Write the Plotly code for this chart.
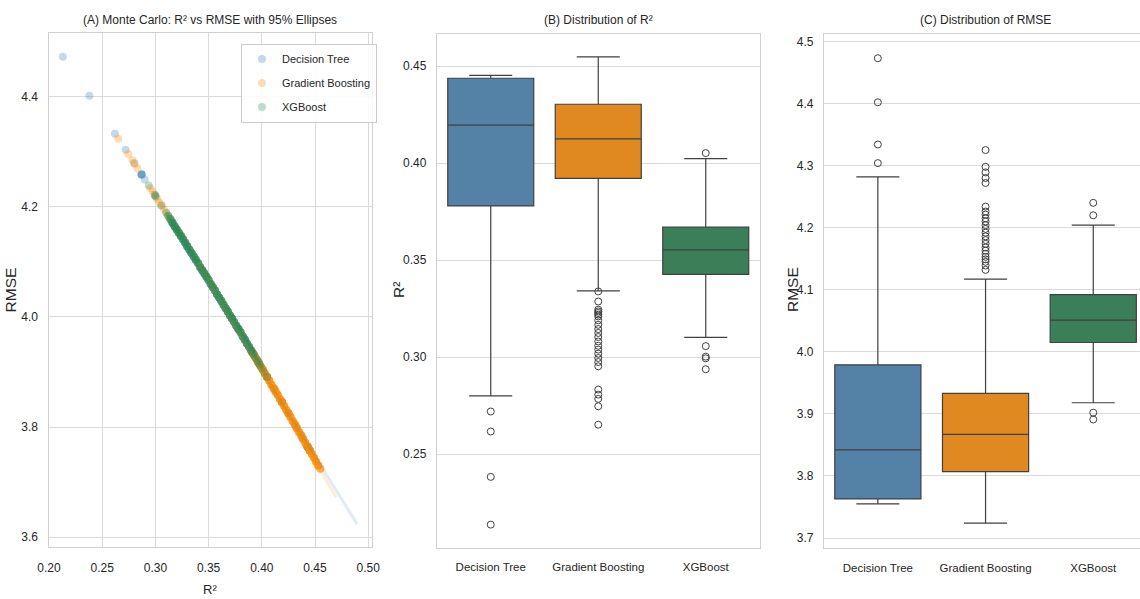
import numpy as np
import plotly.graph_objects as go

# ---------------- data ----------------
models = ["Decision Tree", "Gradient Boosting", "XGBoost"]

# Panel A: Monte Carlo samples (R2, RMSE) with multiplicity counts
dt_r2 = [0.213, 0.238, 0.262, 0.272, 0.280, 0.287, 0.290, 0.300, 0.315, 0.330, 0.345, 0.360, 0.372,
         0.378, 0.385, 0.392, 0.397, 0.405, 0.412, 0.419, 0.425, 0.432, 0.438, 0.443, 0.445]
dt_rmse = [4.473, 4.402, 4.333, 4.304, 4.280, 4.259, 4.250, 4.220, 4.175, 4.129, 4.082, 4.035, 3.997,
           3.978, 3.956, 3.933, 3.917, 3.891, 3.868, 3.845, 3.825, 3.801, 3.781, 3.764, 3.758]
dt_count = [1, 1, 1, 1, 1, 4, 1, 1, 1, 1, 1, 1, 1, 2, 1, 1, 3, 3, 2, 3, 2, 2, 2, 6, 4]

gb_r2 = [0.2651, 0.2746, 0.2784, 0.2806, 0.2832, 0.2952, 0.2974, 0.2995, 0.3017, 0.3038, 0.3058,
         0.3080, 0.3103, 0.3124, 0.3144, 0.3166, 0.3189, 0.3209, 0.3227, 0.3244, 0.3286, 0.3338,
         0.338, 0.343, 0.348, 0.353, 0.358, 0.363, 0.368, 0.372, 0.376, 0.380, 0.383, 0.386, 0.389,
         0.391, 0.393, 0.395, 0.397, 0.399, 0.401, 0.403, 0.405, 0.407, 0.409, 0.411, 0.413, 0.415,
         0.417, 0.419, 0.421, 0.423, 0.425, 0.427, 0.429, 0.431, 0.433, 0.435, 0.437, 0.439, 0.441,
         0.443, 0.445, 0.447, 0.449, 0.451, 0.453, 0.455]
gb_rmse = [4.324, 4.296, 4.285, 4.278, 4.270, 4.234, 4.228, 4.222, 4.215, 4.208, 4.202,
           4.196, 4.189, 4.182, 4.176, 4.170, 4.163, 4.156, 4.151, 4.146, 4.133, 4.117,
           4.104, 4.088, 4.073, 4.057, 4.041, 4.026, 4.010, 3.997, 3.984, 3.972, 3.962, 3.952, 3.943,
           3.936, 3.930, 3.923, 3.917, 3.910, 3.904, 3.897, 3.891, 3.884, 3.877, 3.871, 3.864, 3.858,
           3.851, 3.845, 3.838, 3.831, 3.825, 3.818, 3.811, 3.805, 3.798, 3.791, 3.785, 3.778, 3.771,
           3.764, 3.758, 3.751, 3.744, 3.737, 3.730, 3.724]
gb_count = [1] * 22 + [1] * 13 + [5] * 32 + [3]

xgb_r2 = [0.2937, 0.2993, 0.3002, 0.3056,
          0.310, 0.312, 0.314, 0.316, 0.318, 0.320, 0.322, 0.324, 0.326, 0.328, 0.330, 0.332, 0.334,
          0.336, 0.338, 0.340, 0.342, 0.344, 0.346, 0.348, 0.350, 0.352, 0.354, 0.356, 0.358, 0.360,
          0.362, 0.364, 0.366, 0.368, 0.370, 0.372, 0.374, 0.376, 0.378, 0.380, 0.382, 0.384, 0.386,
          0.388, 0.390, 0.392, 0.394, 0.396, 0.398, 0.400, 0.402, 0.405]
xgb_rmse = [4.239, 4.222, 4.219, 4.203,
            4.190, 4.184, 4.178, 4.171, 4.165, 4.159, 4.153, 4.147, 4.141, 4.135, 4.128, 4.122, 4.116,
            4.110, 4.104, 4.098, 4.091, 4.085, 4.079, 4.073, 4.067, 4.060, 4.054, 4.048, 4.041, 4.035,
            4.029, 4.022, 4.016, 4.010, 4.003, 3.997, 3.991, 3.984, 3.978, 3.972, 3.965, 3.959, 3.952,
            3.946, 3.939, 3.933, 3.926, 3.920, 3.913, 3.907, 3.900, 3.891]
xgb_count = [1, 1, 1, 1, 1, 2, 3] + [5] * 38 + [3, 2, 2, 2, 1, 1, 1]

# 95% ellipse extents (major axis end points)
dt_ell_r2, dt_ell_rmse = [0.322, 0.4895], [4.145, 3.624]
gb_ell_r2, gb_ell_rmse = [0.340, 0.470], [4.098, 3.672]
xgb_ell_r2, xgb_ell_rmse = [0.310, 0.399], [4.190, 3.910]

# Panel B: R2 box statistics
r2_q1 = [0.3779, 0.3921, 0.3426]
r2_median = [0.4195, 0.4124, 0.3552]
r2_q3 = [0.4437, 0.4303, 0.3669]
r2_low = [0.2800, 0.3341, 0.3101]
r2_high = [0.4452, 0.4547, 0.4023]
r2_outliers = [
    [0.2719, 0.2616, 0.2382, 0.2136],
    [0.3338, 0.3286, 0.3244, 0.3235, 0.3227, 0.3218, 0.3209, 0.3189, 0.3166, 0.3144, 0.3124, 0.3103,
     0.3080, 0.3058, 0.3038, 0.3017, 0.2995, 0.2974, 0.2952, 0.2832, 0.2806, 0.2784, 0.2746, 0.2651],
    [0.4051, 0.3056, 0.3002, 0.2993, 0.2937],
]

# Panel C: RMSE box statistics
rmse_q1 = [3.763, 3.807, 4.015]
rmse_median = [3.842, 3.867, 4.051]
rmse_q3 = [3.979, 3.933, 4.092]
rmse_low = [3.755, 3.724, 3.918]
rmse_high = [4.282, 4.117, 4.204]
rmse_outliers = [
    [4.473, 4.402, 4.334, 4.304],
    [4.325, 4.298, 4.289, 4.280, 4.272, 4.234, 4.226, 4.221, 4.215, 4.210, 4.204, 4.198, 4.192,
     4.186, 4.180, 4.174, 4.168, 4.163, 4.158, 4.153, 4.149, 4.145, 4.139, 4.132],
    [4.240, 4.220, 3.902, 3.891],
]

# ---------------- styling ----------------
W, H = 1140, 599
scatter_colors = ["#4682B4", "#FF8C00", "#2E8B57"]
box_colors = ["#5481a6", "#df8920", "#3a7f58"]
edge = "#404040"
grid = "#dadada"
spine = "#d0d0d0"
txt = "#262626"
FONT = "Liberation Sans, Arial, sans-serif"


def px_x(p):
    return p / W


def px_y(p):
    return 1 - p / H


fig = go.Figure()

# Panel A scatter
samples = [(dt_r2, dt_rmse, dt_count), (gb_r2, gb_rmse, gb_count), (xgb_r2, xgb_rmse, xgb_count)]
for name, col, (r2, rm, cnt) in zip(models, scatter_colors, samples):
    fig.add_trace(go.Scatter(
        x=np.repeat(r2, cnt), y=np.repeat(rm, cnt), mode="markers", name=name, legendgroup=name,
        marker=dict(color=col, size=8, opacity=0.3, line=dict(width=0)),
        xaxis="x", yaxis="y", showlegend=True, hoverinfo="skip"))

for col, (ex, ey) in zip(scatter_colors, [(dt_ell_r2, dt_ell_rmse), (gb_ell_r2, gb_ell_rmse),
                                          (xgb_ell_r2, xgb_ell_rmse)]):
    fig.add_trace(go.Scatter(x=ex, y=ey, mode="lines", line=dict(color=col, width=3),
                             opacity=0.16, showlegend=False, xaxis="x", yaxis="y", hoverinfo="skip"))

# Panels B and C boxes
panels = [("x2", "y2", r2_q1, r2_median, r2_q3, r2_low, r2_high, r2_outliers),
          ("x3", "y3", rmse_q1, rmse_median, rmse_q3, rmse_low, rmse_high, rmse_outliers)]
for xa, ya, q1, med, q3, lo, hi, outs in panels:
    for i in range(3):
        fig.add_trace(go.Box(
            x=[i], q1=[q1[i]], median=[med[i]], q3=[q3[i]], lowerfence=[lo[i]], upperfence=[hi[i]],
            fillcolor=box_colors[i], line=dict(color=edge, width=1.2), width=0.8, whiskerwidth=0.5,
            boxpoints=False, showlegend=False, xaxis=xa, yaxis=ya, hoverinfo="skip"))
        fig.add_trace(go.Scatter(
            x=[i] * len(outs[i]), y=outs[i], mode="markers", showlegend=False,
            marker=dict(symbol="circle-open", size=7, color=edge, line=dict(width=1)),
            xaxis=xa, yaxis=ya, hoverinfo="skip"))

numfont = dict(family=FONT, size=12, color=txt)
catfont = dict(family=FONT, size=11.5, color=txt)
common = dict(showline=True, linecolor=spine, linewidth=1.25, zeroline=False,
              ticks="", fixedrange=True, automargin=False)

fig.update_layout(
    width=W, height=H, autosize=False, margin=dict(l=0, r=0, t=0, b=0),
    paper_bgcolor="white", plot_bgcolor="white", boxmode="overlay",
    xaxis=dict(domain=[px_x(48.5), px_x(371.7)], range=[0.1995, 0.5033], dtick=0.05, tick0=0.2,
               tickformat=".2f", showgrid=True, gridcolor=grid, gridwidth=1.2, mirror=True,
               anchor="y", ticklabelstandoff=9, tickfont=numfont, **common),
    yaxis=dict(domain=[px_y(547), px_y(33)], range=[3.582, 4.516], dtick=0.2, tick0=3.6,
               tickformat=".1f", showgrid=True, gridcolor=grid, gridwidth=1.2, mirror=True,
               anchor="x", ticklabelstandoff=7, tickfont=numfont,
               title=dict(text="RMSE", standoff=0, font=dict(family=FONT, size=15.5, color=txt)),
               **common),
    xaxis2=dict(domain=[px_x(437), px_x(759.5)], range=[-0.5, 2.5], tickvals=[0, 1, 2],
                ticktext=models, showgrid=False, mirror=True, anchor="y2",
                ticklabelstandoff=9, tickfont=catfont, **common),
    yaxis2=dict(domain=[px_y(547.5), px_y(34)], range=[0.2018, 0.4665], dtick=0.05, tick0=0.25,
                tickformat=".2f", showgrid=True, gridcolor=grid, gridwidth=1.2, mirror=True,
                anchor="x2", ticklabelstandoff=7, tickfont=numfont, **common),
    xaxis3=dict(domain=[px_x(824), 1.0], range=[-0.5, 2.434], tickvals=[0, 1, 2],
                ticktext=models, showgrid=False, mirror=True, anchor="y3",
                ticklabelstandoff=9, tickfont=catfont, **common),
    yaxis3=dict(domain=[px_y(548), px_y(34)], range=[3.684, 4.512], dtick=0.1, tick0=3.7,
                tickformat=".1f", showgrid=True, gridcolor=grid, gridwidth=1.2, mirror=False,
                anchor="x3", ticklabelstandoff=7, tickfont=numfont, **common),
    legend=dict(x=px_x(241), y=px_y(43.5), xanchor="left", yanchor="top",
                bgcolor="rgba(255,255,255,0.85)", bordercolor="#cccccc", borderwidth=1,
                font=dict(family=FONT, size=11, color=txt), tracegroupgap=5),
    font=dict(family=FONT, color=txt),
)

annots = [
    dict(text="(A) Monte Carlo: R² vs RMSE with 95% Ellipses", x=px_x(210), y=px_y(20),
         font=dict(family=FONT, size=12, color=txt)),
    dict(text="(B) Distribution of R²", x=px_x(598), y=px_y(20),
         font=dict(family=FONT, size=12, color=txt)),
    dict(text="(C) Distribution of RMSE", x=px_x(985), y=px_y(20),
         font=dict(family=FONT, size=12, color=txt)),
    dict(text="R²", x=px_x(210), y=px_y(589), font=dict(family=FONT, size=13, color=txt)),
    dict(text="R²", x=px_x(398), y=px_y(290), textangle=-90, font=dict(family=FONT, size=15.5, color=txt)),
    dict(text="RMSE", x=px_x(792), y=px_y(290), textangle=-90, font=dict(family=FONT, size=15.5, color=txt)),
]
for a in annots:
    fig.add_annotation(xref="paper", yref="paper", showarrow=False, xanchor="center",
                       yanchor="middle", **a)

fig.write_html("out.html")
